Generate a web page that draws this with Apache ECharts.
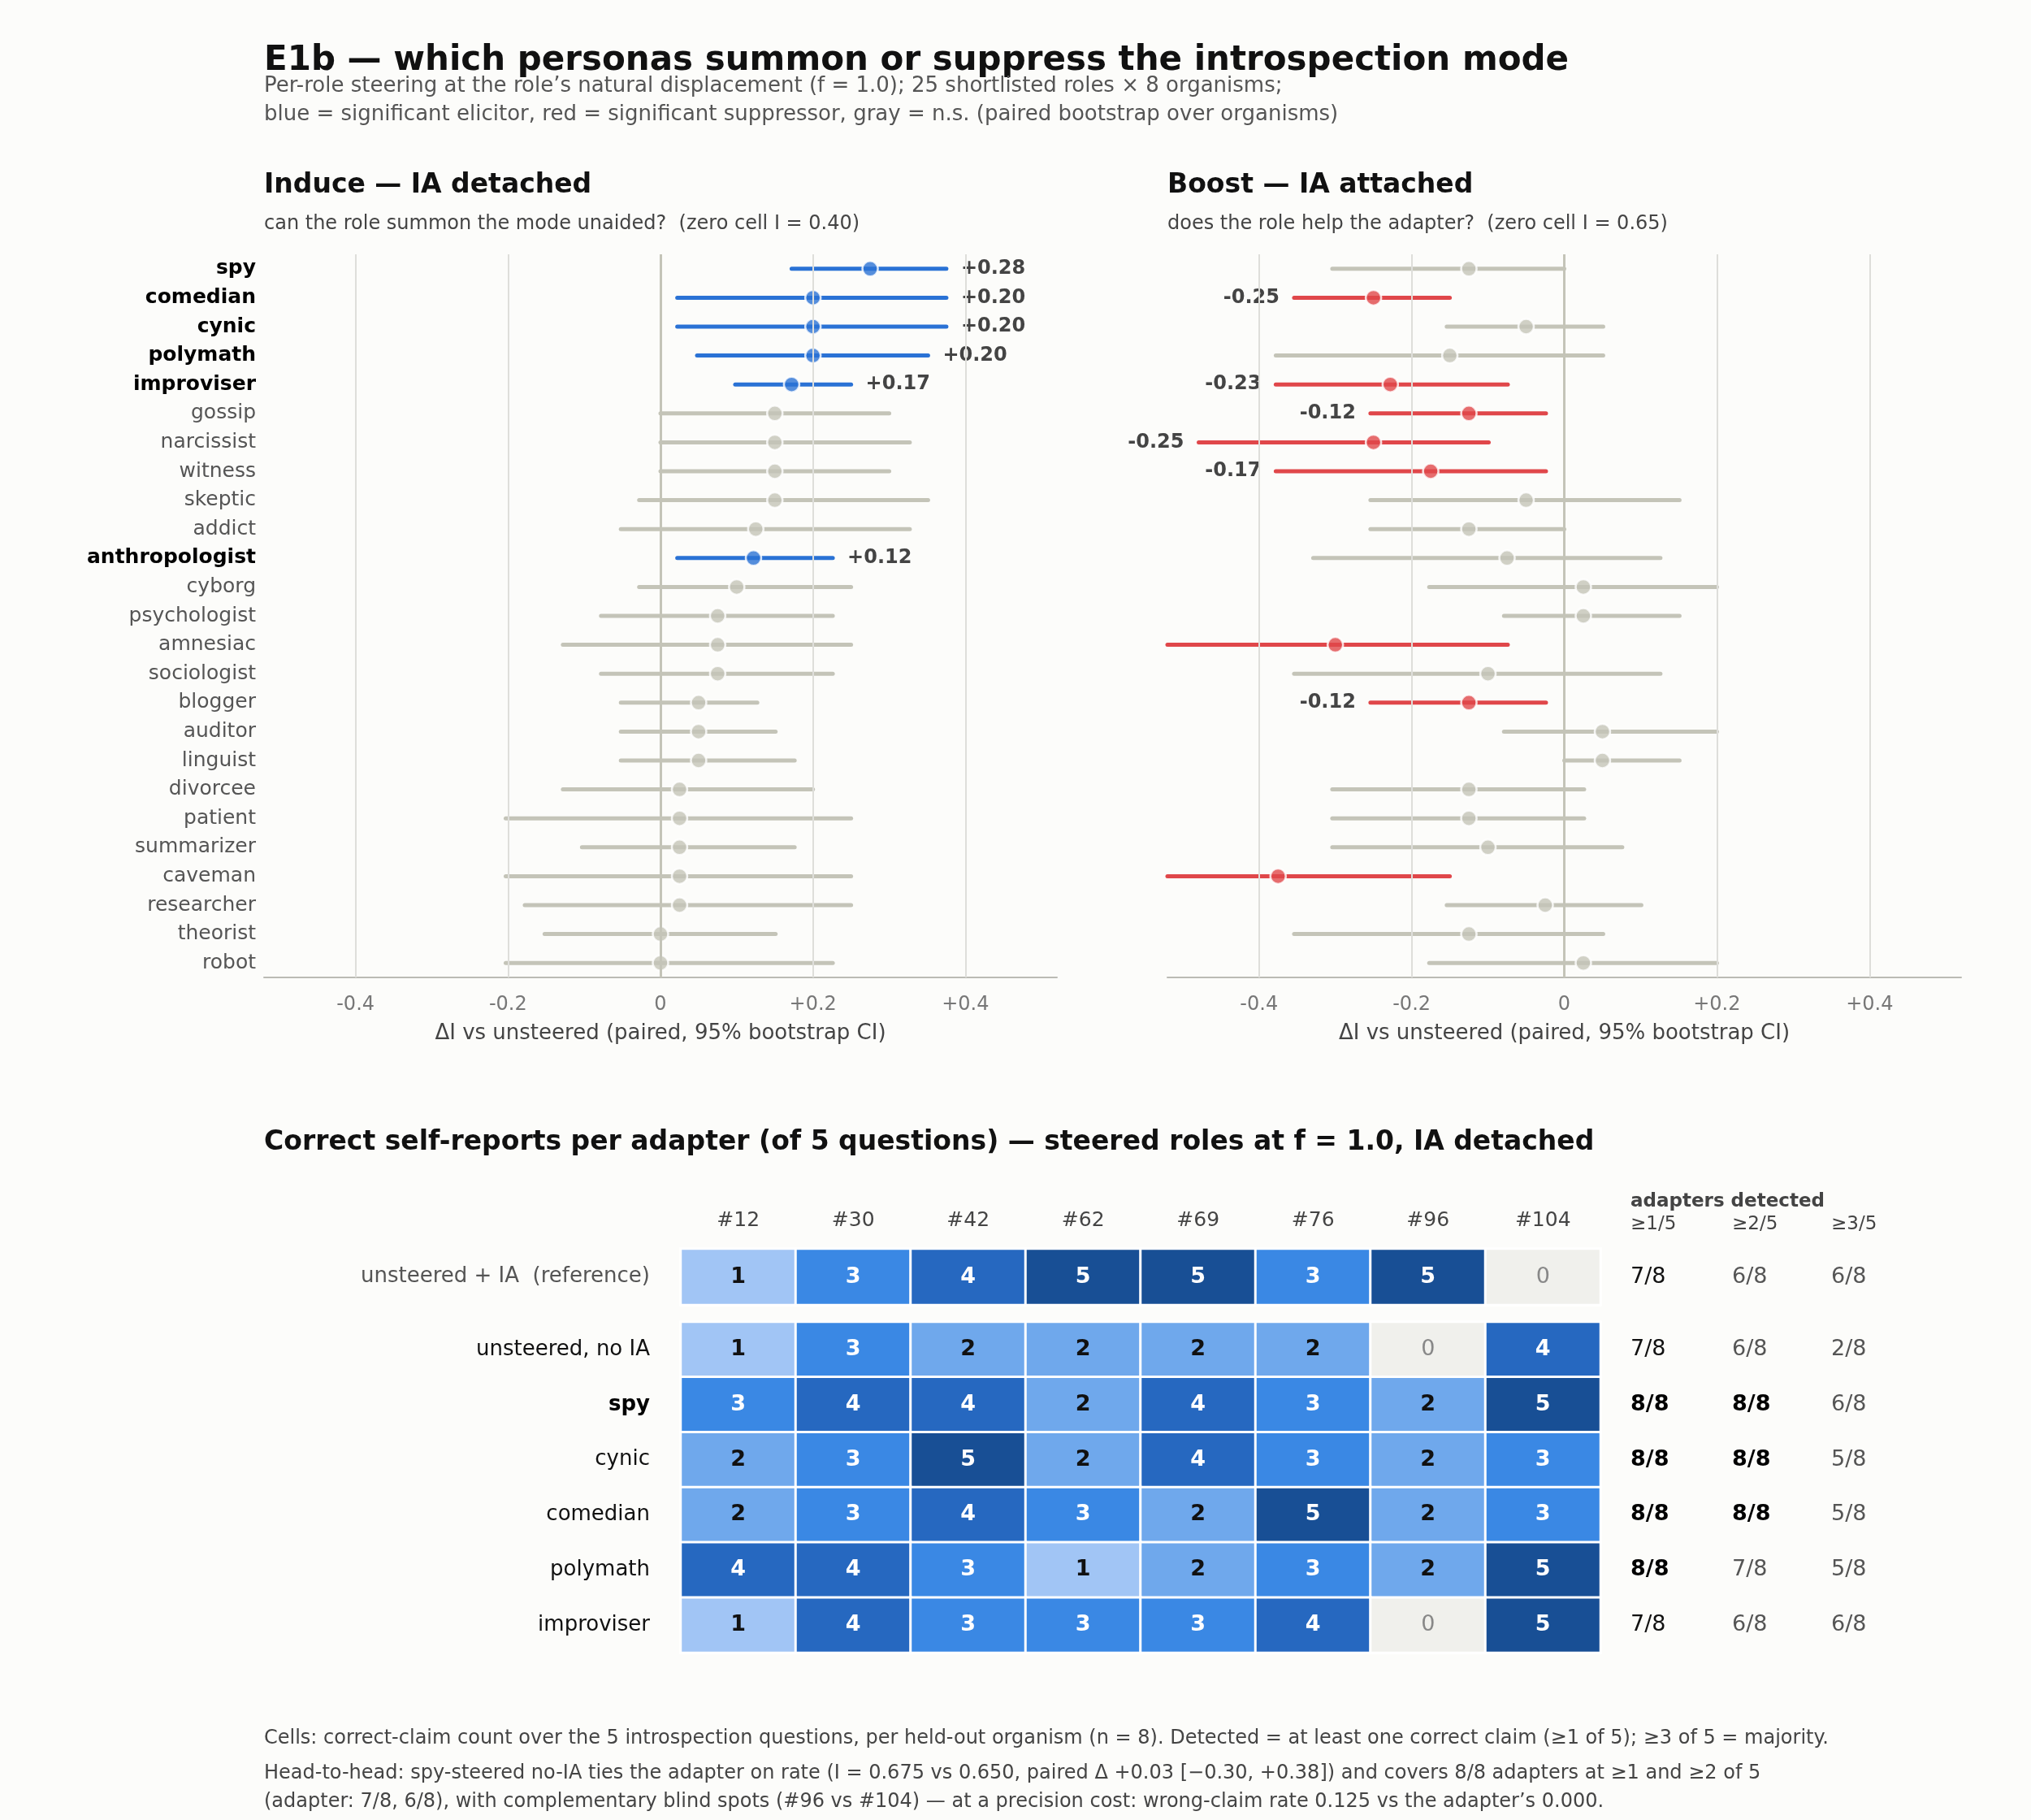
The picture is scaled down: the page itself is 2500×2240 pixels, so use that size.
<!DOCTYPE html>
<html><head><meta charset="utf-8">
<script src="https://cdn.jsdelivr.net/npm/echarts@6/dist/echarts.min.js"></script>
<style>html,body{margin:0;padding:0;background:#fcfcfa}#c{width:2500px;height:2240px}</style>
</head><body><div id="c"></div>
<script>
const roles = ['spy','comedian','cynic','polymath','improviser','gossip','narcissist','witness','skeptic','addict','anthropologist','cyborg','psychologist','amnesiac','sociologist','blogger','auditor','linguist','divorcee','patient','summarizer','caveman','researcher','theorist','robot'];
// Induce (IA detached)
const induceMean = [0.275,0.2,0.2,0.2,0.172,0.15,0.15,0.15,0.15,0.125,0.122,0.1,0.075,0.075,0.075,0.05,0.05,0.05,0.025,0.025,0.025,0.025,0.025,0,0];
const induceLo   = [0.172,0.022,0.022,0.048,0.098,0,0,0,-0.028,-0.052,0.022,-0.028,-0.078,-0.128,-0.078,-0.052,-0.052,-0.052,-0.128,-0.203,-0.103,-0.203,-0.178,-0.152,-0.203];
const induceHi   = [0.375,0.375,0.375,0.351,0.25,0.30,0.327,0.30,0.351,0.327,0.226,0.25,0.226,0.25,0.226,0.127,0.151,0.176,0.2,0.25,0.176,0.25,0.25,0.151,0.226];
const induceSig  = [1,1,1,1,1,0,0,0,0,0,1,0,0,0,0,0,0,0,0,0,0,0,0,0,0];
// Boost (IA attached)
const boostMean = [-0.125,-0.25,-0.05,-0.15,-0.228,-0.125,-0.25,-0.175,-0.05,-0.125,-0.075,0.025,0.025,-0.3,-0.1,-0.125,0.05,0.05,-0.125,-0.125,-0.1,-0.375,-0.025,-0.125,0.025];
const boostLo   = [-0.304,-0.354,-0.154,-0.378,-0.378,-0.254,-0.479,-0.378,-0.254,-0.254,-0.329,-0.177,-0.079,-0.56,-0.354,-0.254,-0.079,0,-0.304,-0.304,-0.304,-0.6,-0.154,-0.354,-0.177];
const boostHi   = [0,-0.15,0.051,0.051,-0.074,-0.024,-0.099,-0.024,0.151,0,0.126,0.2,0.151,-0.074,0.126,-0.024,0.2,0.151,0.026,0.026,0.076,-0.15,0.101,0.051,0.2];
const boostSig  = [0,-1,0,0,-1,-1,-1,-1,0,0,0,0,0,-1,0,-1,0,0,0,0,0,-1,0,0,0];
const xTicks = [-0.4,-0.2,0,0.2,0.4];
// Heatmap
const adapters = ['#12','#30','#42','#62','#69','#76','#96','#104'];
const refLabel = 'unsteered + IA  (reference)';
const refCounts = [1,3,4,5,5,3,5,0];
const refDetected = ['7/8','6/8','6/8'];
const heatRows = ['unsteered, no IA','spy','cynic','comedian','polymath','improviser'];
const heatCounts = [
  [1,3,2,2,2,2,0,4],
  [3,4,4,2,4,3,2,5],
  [2,3,5,2,4,3,2,3],
  [2,3,4,3,2,5,2,3],
  [4,4,3,1,2,3,2,5],
  [1,4,3,3,3,4,0,5]
];
const heatDetected = [['7/8','6/8','2/8'],['8/8','8/8','6/8'],['8/8','8/8','5/8'],['8/8','8/8','5/8'],['8/8','7/8','5/8'],['7/8','6/8','6/8']];
const detHeaders = ['≥1/5','≥2/5','≥3/5'];

const F = 'DejaVu Sans';
const BLUE = '#2a72d5', RED = '#e0474a', GRAY = '#c4c4b8';
const cellColors = ['#f0f0ec','#a1c5f5','#6fa8ec','#3a88e4','#2668c0','#184f95'];
const AX_MIN = -0.52, AX_MAX = 0.52;

function ciSeries(gi, lo, hi, sig, mean, side){
  return {
    type:'custom', xAxisIndex:gi, yAxisIndex:gi, z:2,
    data: roles.map((r,i)=>[lo[i],hi[i],i,sig[i],mean[i]]),
    renderItem:(params, api)=>{
      const l = Math.max(api.value(0), AX_MIN), h = Math.min(api.value(1), AX_MAX);
      const s = api.value(3);
      const p1 = api.coord([l, api.value(2)]), p2 = api.coord([h, api.value(2)]);
      const col = s>0?BLUE:(s<0?RED:GRAY);
      const children = [{type:'line', shape:{x1:p1[0],y1:p1[1],x2:p2[0],y2:p2[1]}, style:{stroke:col,lineWidth:5,lineCap:'round'}}];
      if (s !== 0 && api.value(0) >= AX_MIN) {
        const m = api.value(4);
        const t = (m>0?'+':'') + (Math.round(m*100)/100).toFixed(2);
        children.push({type:'text', style:{text:t, x: side==='r'? p2[0]+18 : p1[0]-18, y:p1[1], align: side==='r'?'left':'right', verticalAlign:'middle', fill:'#444', font:'bold 24px "'+F+'"'}});
      }
      return {type:'group', children};
    }
  };
}
function dotSeries(gi, mean, sig){
  return {type:'scatter', xAxisIndex:gi, yAxisIndex:gi, z:3, symbolSize:19,
    data: roles.map((r,i)=>({value:[mean[i],i], itemStyle:{color: sig[i]>0?BLUE:(sig[i]<0?RED:GRAY), borderColor:'#fff', borderWidth:2.5}}))};
}
function gridLines(){
  return {silent:true, symbol:'none', label:{show:false}, data: xTicks.map(v=>({xAxis:v, lineStyle:{color: v===0?'#c4c4b8':'#dededa', width: v===0?3:2, type:'solid'}}))};
}
const xAxisCommon = {type:'value', min:AX_MIN, max:AX_MAX, splitLine:{show:false},
  axisLine:{show:true, lineStyle:{color:'#bbbbb4', width:2}}, axisTick:{show:false},
  axisLabel:{customValues:xTicks, color:'#777', fontFamily:F, fontSize:24, margin:22, formatter:v=> v===0?'0':(v>0?'+':'')+(Math.round(v*10)/10)},
  name:'ΔI vs unsteered (paired, 95% bootstrap CI)', nameLocation:'middle', nameGap:56, nameTextStyle:{color:'#444', fontFamily:F, fontSize:26}};

const heatRef = refCounts.map((v,j)=>({value:[j,0,v], label:{color: v===0?'#888':(v<=2?'#111':'#fff'), fontWeight: v===0?'normal':'bold'}}));
const heatMain = [];
heatCounts.forEach((row,i)=>row.forEach((v,j)=>heatMain.push({value:[j,i,v], label:{color: v===0?'#888':(v<=2?'#111':'#fff'), fontWeight: v===0?'normal':'bold'}})));

const boldLeft = new Set(roles.filter((r,i)=>induceSig[i]!==0));
const catAxis = (gi, showLabels)=>({type:'category', gridIndex:gi, data:roles, inverse:true, axisLine:{show:false}, axisTick:{show:false},
  axisLabel:{show:showLabels, margin:10, fontFamily:F, fontSize:25, formatter:v=> boldLeft.has(v)?'{b|'+v+'}':'{n|'+v+'}', rich:{b:{fontWeight:'bold',color:'#000',fontSize:25,fontFamily:F}, n:{color:'#555',fontSize:25,fontFamily:F}}}, splitLine:{show:false}});

const t = (text, left, top, size, weight, color)=>({text, left, top, padding:0, textStyle:{fontFamily:F, fontSize:size, fontWeight:weight, color}});

const option = {
  backgroundColor:'#fcfcfa', animation:false,
  title:[
    t('E1b — which personas summon or suppress the introspection mode',325,54,42,'bold','#111'),
    t('Per-role steering at the role’s natural displacement (f = 1.0); 25 shortlisted roles × 8 organisms;',325,93,26,'normal','#555'),
    t('blue = significant elicitor, red = significant suppressor, gray = n.s. (paired bootstrap over organisms)',325,128,26,'normal','#555'),
    t('Induce — IA detached',325,212,33,'bold','#111'),
    t('can the role summon the mode unaided?  (zero cell I = 0.40)',325,264,24,'normal','#444'),
    t('Boost — IA attached',1437,212,33,'bold','#111'),
    t('does the role help the adapter?  (zero cell I = 0.65)',1437,264,24,'normal','#444'),
    t('Correct self-reports per adapter (of 5 questions) — steered roles at f = 1.0, IA detached',325,1390,33,'bold','#111'),
    t('Cells: correct-claim count over the 5 introspection questions, per held-out organism (n = 8). Detected = at least one correct claim (≥1 of 5); ≥3 of 5 = majority.',325,2128,24,'normal','#444'),
    t('Head-to-head: spy-steered no-IA ties the adapter on rate (I = 0.675 vs 0.650, paired Δ +0.03 [−0.30, +0.38]) and covers 8/8 adapters at ≥1 and ≥2 of 5',325,2171,24,'normal','#444'),
    t('(adapter: 7/8, 6/8), with complementary blind spots (#96 vs #104) — at a precision cost: wrong-claim rate 0.125 vs the adapter’s 0.000.',325,2206,24,'normal','#444')
  ],
  grid:[
    {left:325, top:313, width:976, height:890},
    {left:1437, top:313, width:977, height:890},
    {left:838, top:1537, width:1132, height:69},
    {left:838, top:1627, width:1132, height:407}
  ],
  xAxis:[
    Object.assign({gridIndex:0}, xAxisCommon),
    Object.assign({gridIndex:1}, xAxisCommon),
    {type:'category', gridIndex:2, data:adapters, position:'top', axisLine:{show:false}, axisTick:{show:false}, axisLabel:{color:'#444', fontFamily:F, fontSize:25, margin:22}},
    {type:'category', gridIndex:3, data:adapters, show:false}
  ],
  yAxis:[
    catAxis(0,true), catAxis(1,false),
    {type:'category', gridIndex:2, data:[refLabel], axisLine:{show:false}, axisTick:{show:false}, axisLabel:{color:'#555', fontFamily:F, fontSize:26, margin:38}},
    {type:'category', gridIndex:3, data:heatRows, inverse:true, axisLine:{show:false}, axisTick:{show:false},
      axisLabel:{color:'#111', fontFamily:F, fontSize:26, margin:38, formatter:v=> v==='spy'?'{b|spy}':v, rich:{b:{fontWeight:'bold',fontSize:26,fontFamily:F,color:'#000'}}}}
  ],
  visualMap:{type:'piecewise', show:false, seriesIndex:[4,5], dimension:2,
    pieces: cellColors.map((c,k)=>({value:k, color:c}))},
  series:[
    Object.assign(ciSeries(0, induceLo, induceHi, induceSig, induceMean, 'r'), {markLine:gridLines()}),
    dotSeries(0, induceMean, induceSig),
    Object.assign(ciSeries(1, boostLo, boostHi, boostSig, boostMean, 'l'), {markLine:gridLines()}),
    dotSeries(1, boostMean, boostSig),
    {type:'heatmap', xAxisIndex:2, yAxisIndex:2, data:heatRef, itemStyle:{borderColor:'#fff', borderWidth:3},
      label:{show:true, fontFamily:F, fontSize:27, formatter:p=>String(p.value[2])}},
    {type:'heatmap', xAxisIndex:3, yAxisIndex:3, data:heatMain, itemStyle:{borderColor:'#fff', borderWidth:3},
      label:{show:true, fontFamily:F, fontSize:27, formatter:p=>String(p.value[2])}}
  ]
};
const chart = echarts.init(document.getElementById('c'));
chart.setOption(option);

// detected columns
const colX = [2007, 2132, 2254];
const g = [];
g.push({type:'text', left:2007, top:1468, style:{text:'adapters detected', font:'bold 23px "'+F+'"', fill:'#444'}});
detHeaders.forEach((h,k)=>g.push({type:'text', left:colX[k], top:1496, style:{text:h, font:'23px "'+F+'"', fill:'#444'}}));
function detRow(vals, y){
  vals.forEach((v,k)=>{
    const bold = v==='8/8';
    g.push({type:'text', x:colX[k], y:y, style:{text:v, font:(bold?'bold ':'')+'27px "'+F+'"', fill: bold?'#000':(k===0?'#111':'#555'), verticalAlign:'middle', align:'left'}});
  });
}
detRow(refDetected, chart.convertToPixel({yAxisIndex:2}, refLabel));
heatRows.forEach((r,i)=>detRow(heatDetected[i], chart.convertToPixel({yAxisIndex:3}, r)));
chart.setOption({graphic:g});
</script></body></html>
